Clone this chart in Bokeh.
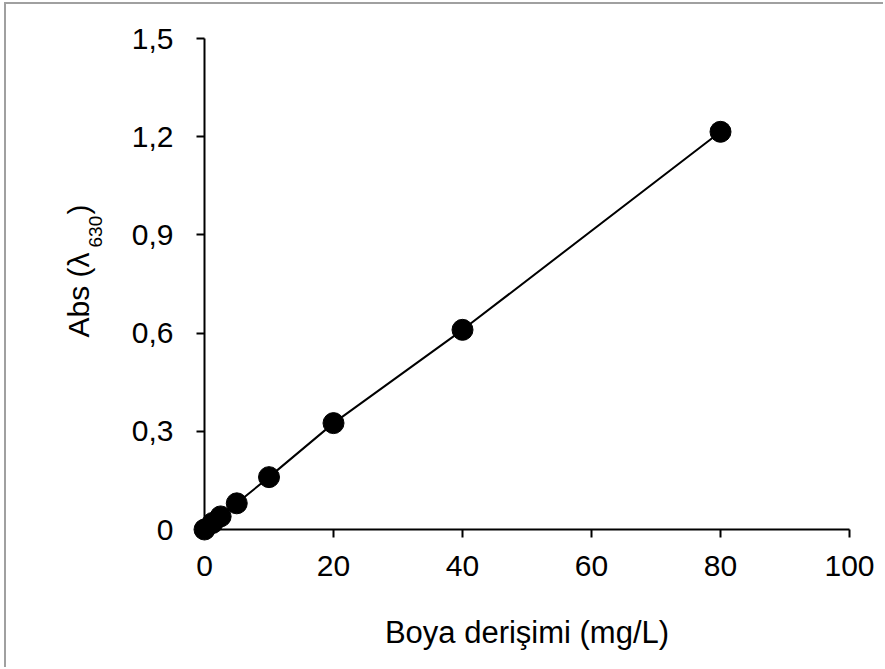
from bokeh.plotting import figure
from bokeh.models import Range1d, FixedTicker, CustomJSTickFormatter, Label
from bokeh.embed import file_html
from bokeh.resources import INLINE
import math

# data
conc = [0, 1.25, 2.5, 5, 10, 20, 40, 80]
absorb = [0, 0.02, 0.04, 0.08, 0.16, 0.325, 0.61, 1.215]
x_ticks = [0, 20, 40, 60, 80, 100]
y_ticks = [0, 0.3, 0.6, 0.9, 1.2, 1.5]
x_label = "Boya derişimi (mg/L)"
y_label_main = "Abs (λ"
y_label_sub = "630"
y_label_end = ")"

FONT = "Liberation Sans"

# frame covers the whole canvas; axes are placed at x=0 / y=0
p = figure(width=879, height=665, output_backend="svg", toolbar_location=None,
           x_range=Range1d(-30.70, 105.58), y_range=Range1d(-0.4277, 1.6039),
           min_border=0, min_border_left=0, min_border_right=0,
           min_border_top=0, min_border_bottom=0)
p.styles = {"border-left": "2px solid #a0a0a0", "border-top": "2px solid #a0a0a0",
            "margin-left": "4px", "margin-top": "2px"}
p.outline_line_color = None
p.grid.visible = False
p.background_fill_color = "white"
p.border_fill_color = "white"

for ax in (p.xaxis[0], p.yaxis[0]):
    ax.fixed_location = 0
    ax.axis_line_color = "black"
    ax.axis_line_width = 2
    ax.major_tick_line_color = "black"
    ax.major_tick_line_width = 2
    ax.major_tick_out = 8
    ax.major_tick_in = 0
    ax.minor_tick_line_color = None
    ax.major_label_text_font = FONT
    ax.major_label_text_font_size = "30px"
    ax.major_label_text_color = "black"

p.xaxis.bounds = (0, 100)
p.yaxis.bounds = (0, 1.5)
p.xaxis.ticker = FixedTicker(ticks=x_ticks)
p.yaxis.ticker = FixedTicker(ticks=y_ticks)
p.yaxis.formatter = CustomJSTickFormatter(
    code="return tick == 0 ? '0' : tick.toFixed(1).replace('.', ',');")
p.xaxis.major_label_standoff = 18
p.yaxis.major_label_standoff = 23

p.xaxis.axis_label = x_label
p.xaxis.axis_label_text_font = FONT
p.xaxis.axis_label_text_font_size = "31px"
p.xaxis.axis_label_text_font_style = "normal"
p.xaxis.axis_label_text_color = "black"
p.xaxis.axis_label_standoff = 36

p.line(conc, absorb, line_color="black", line_width=2)
p.scatter(conc, absorb, size=21, fill_color="black", line_color="black")

# y axis label with subscript (rotated)
common = dict(angle=math.pi / 2, text_font=FONT, text_align="left",
              text_baseline="alphabetic", text_color="black")
p.add_layout(Label(x=-19.53, y=0.5866, text=y_label_main, text_font_size="30px", **common))
p.add_layout(Label(x=-16.9, y=0.8615, text=y_label_sub, text_font_size="19px", **common))
p.add_layout(Label(x=-19.53, y=0.9623, text=y_label_end, text_font_size="30px", **common))

open("out.html", "w").write(file_html(p, INLINE))
